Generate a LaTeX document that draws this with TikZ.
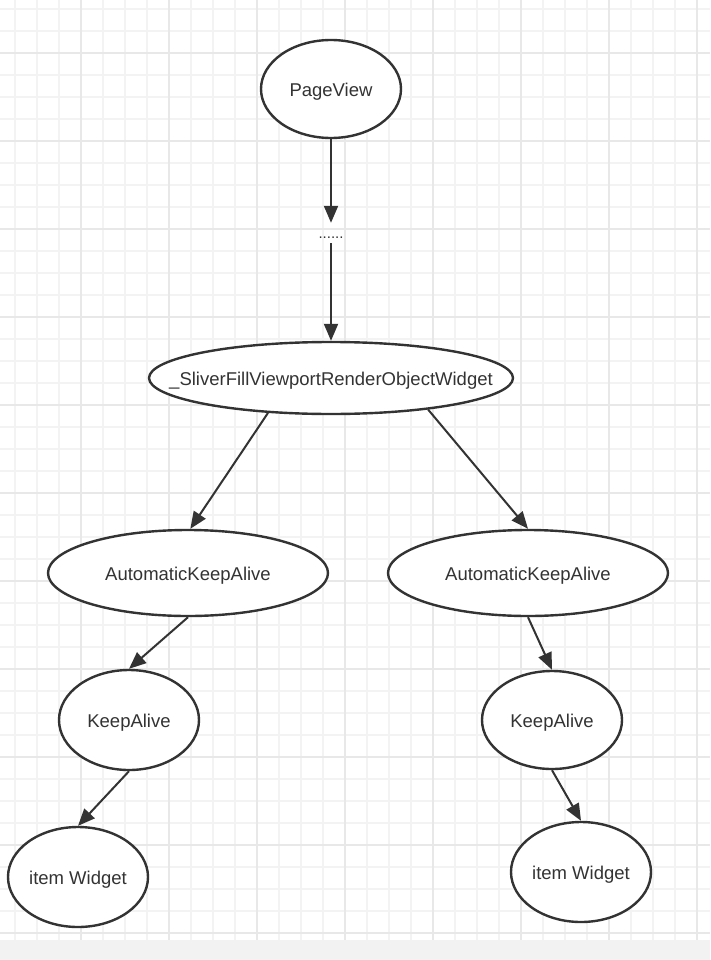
\documentclass[tikz,border=0pt]{standalone}
\usepackage{fontspec}
\setmainfont{Liberation Sans}
\usepackage{tikz}
\usetikzlibrary{shapes.geometric, arrows.meta}
\definecolor{ink}{HTML}{333333}
\definecolor{gridminor}{HTML}{F3F3F3}
\definecolor{gridmajor}{HTML}{E8E8E8}
\definecolor{strip}{HTML}{F2F2F2}
\tikzstyle{widget} = [ellipse, minimum width=140pt, minimum height=100pt, inner sep=0pt, text height=15pt, text depth=0pt, text centered, draw=ink, line width=2.4pt, fill=white, text=ink, font=\fontsize{18.5pt}{22pt}\selectfont]
\tikzstyle{wrapper} = [widget, minimum width=280pt, minimum height=86pt]
\tikzstyle{elided} = [minimum height=20pt, inner sep=0pt, text height=10pt, text depth=0pt, text=ink, font=\fontsize{15pt}{18pt}\selectfont]
\tikzstyle{arrow} = [line width=2pt, draw=ink, -{Triangle[length=17pt,width=14pt]}]

\begin{document}
\begin{tikzpicture}[x=1pt, y=-1pt, node distance=150pt]
% grid paper
\fill[white] (0,0) rectangle (710,960);
\useasboundingbox (0,0) rectangle (710,960);
\foreach \x in {15,37,...,697} \draw[gridminor, line width=1.6pt] (\x,0) -- (\x,940);
\foreach \y in {9,31,...,933} \draw[gridminor, line width=1.6pt] (0,\y) -- (710,\y);
\foreach \x in {81,169,...,697} \draw[gridmajor, line width=1.8pt] (\x,0) -- (\x,940);
\foreach \y in {53,141,...,933} \draw[gridmajor, line width=1.8pt] (0,\y) -- (710,\y);
\fill[strip] (0,940) rectangle (710,960);

\node (PageView) [widget, minimum height=98pt] at (331,89) {PageView};
\node (dots) [elided, below of = PageView, yshift=6pt] {......};
\node (Sliver) [widget, minimum width=364pt, minimum height=72pt, inner xsep=-60pt, below of = dots, yshift=5pt] {\_SliverFillViewportRenderObjectWidget};
\node (AutoLeft) [wrapper, below of = Sliver, xshift=-143pt, yshift=-45pt] {AutomaticKeepAlive};
\node (AutoRight) [wrapper, below of = Sliver, xshift=197pt, yshift=-45pt] {AutomaticKeepAlive};
\node (KeepLeft) [widget, below of = AutoLeft, xshift=-59pt, yshift=3pt] {KeepAlive};
\node (KeepRight) [widget, minimum height=98pt, below of = AutoRight, xshift=24pt, yshift=3pt] {KeepAlive};
\node (ItemLeft) [widget, below of = KeepLeft, xshift=-51pt, yshift=-7pt] {item Widget};
\node (ItemRight) [widget, below of = KeepRight, xshift=29pt, yshift=-2pt] {item Widget};

\draw [arrow] (PageView) -- (dots);
\draw [arrow] (dots) -- (Sliver);
\draw [arrow] (Sliver.-151) -- (AutoLeft.87);
\draw [arrow] (Sliver.-18) -- (AutoRight.north);
\draw [arrow] (AutoLeft.south) -- (KeepLeft.north);
\draw [arrow] (AutoRight.south) -- (KeepRight.north);
\draw [arrow] (KeepLeft.south) -- (ItemLeft.north);
\draw [arrow] (KeepRight.south) -- (ItemRight.north);
\end{tikzpicture}
\end{document}
